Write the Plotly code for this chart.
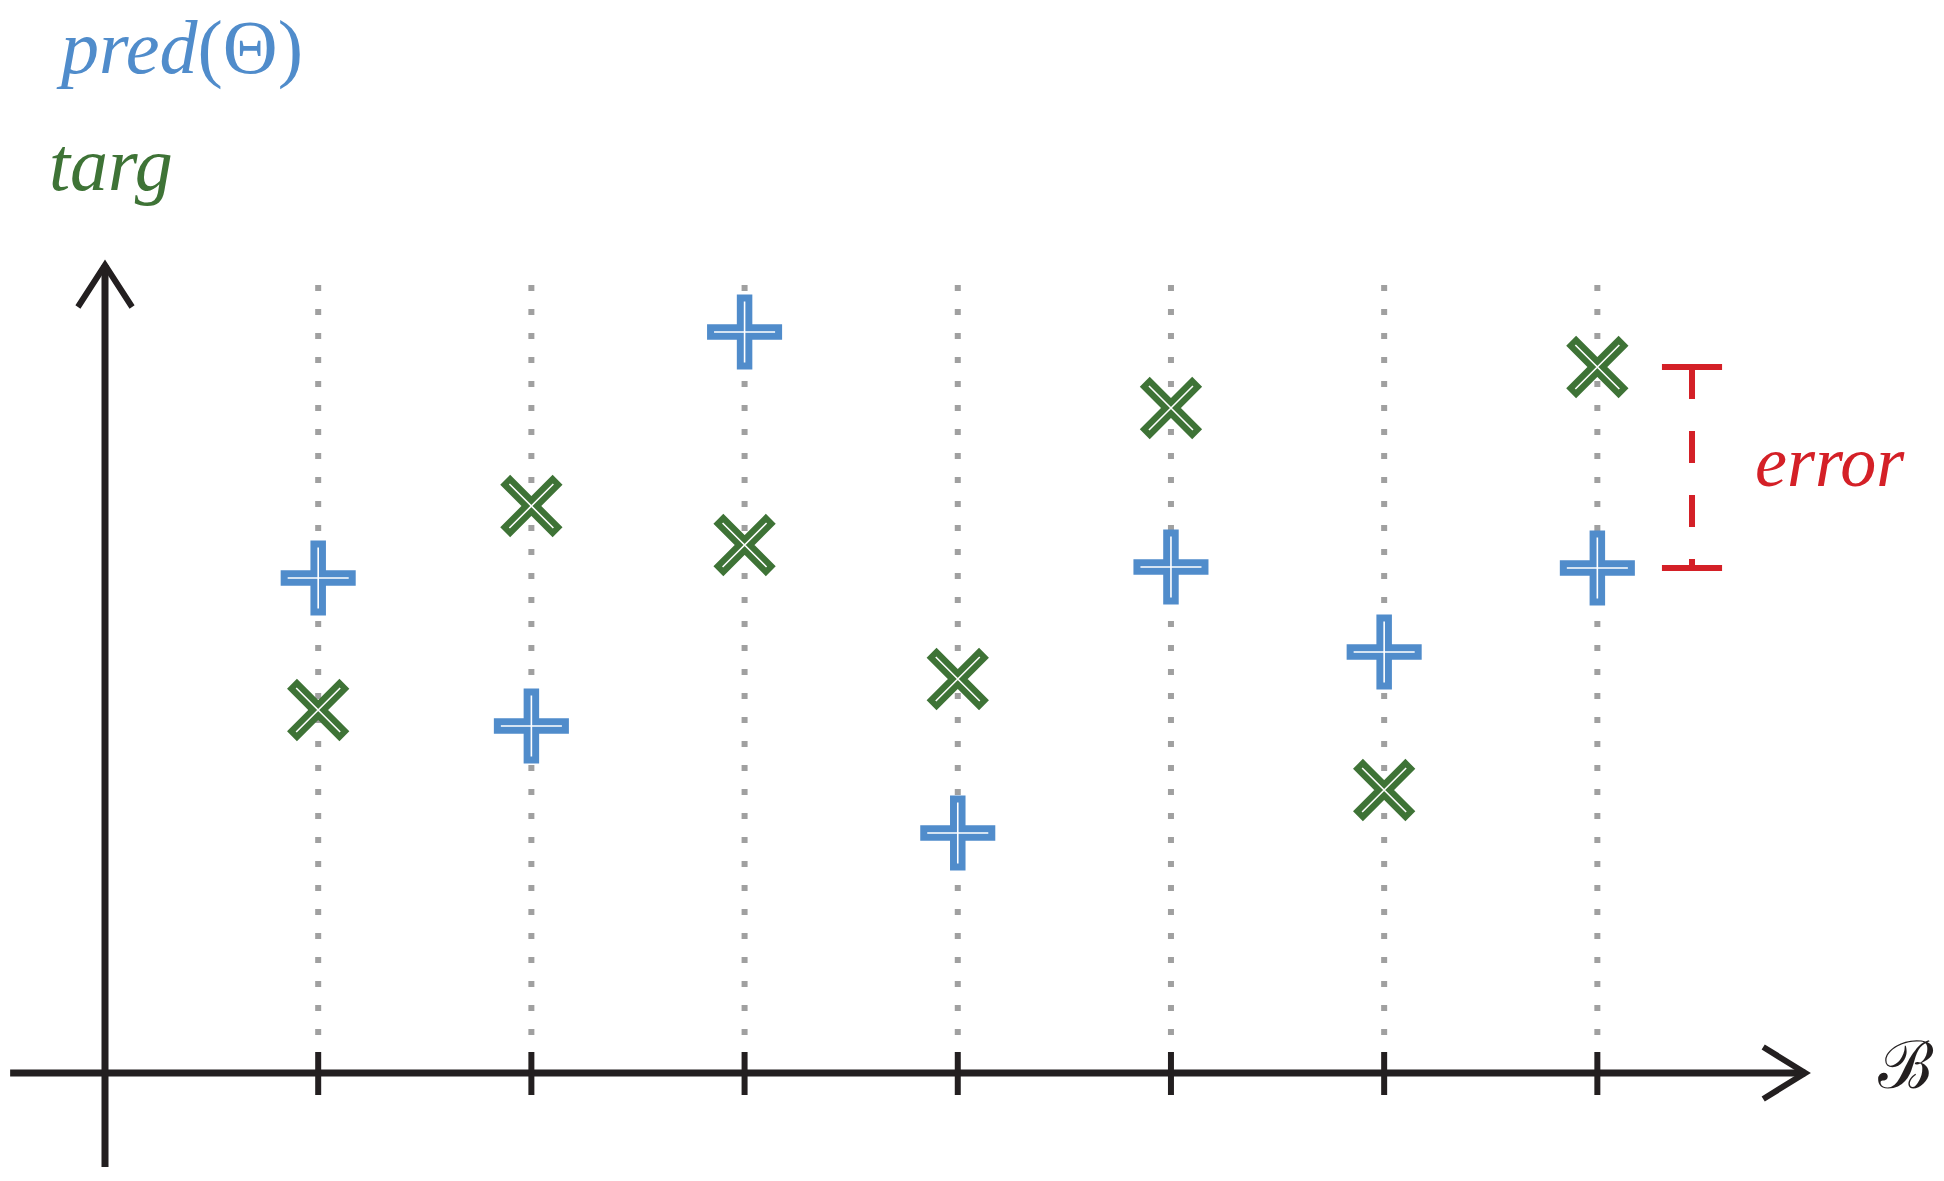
import plotly.graph_objects as go

# ── Data ─────────────────────────────────────────────────────────────────────
batch = [1, 2, 3, 4, 5, 6, 7]
pred  = [4.95, 3.47, 7.41, 2.40, 5.06, 4.21, 5.05]   # blue plus markers
targ  = [3.63, 5.67, 5.28, 3.94, 6.65, 2.83, 7.06]   # green x markers

BLUE  = "#508CCB"
GREEN = "#3E7336"
RED   = "#D42027"
GRAY  = "#A0A0A0"
INK   = "#231F20"

W, H = 1944, 1181
X_RANGE = [-0.4925, 8.626]     # 1 unit ≈ 213 px, origin at 105 px
Y_RANGE = [-1.08, 10.73]       # 1 unit = 100 px, x axis at 1073 px

fig = go.Figure()

# ── Dotted guide lines ───────────────────────────────────────────────────────
gx, gy = [], []
for b in batch:
    gx += [b, b, None]
    gy += [7.88, 0.2, None]
fig.add_trace(go.Scatter(x=gx, y=gy, mode="lines",
                         line=dict(color=GRAY, width=6, dash="6px,18px"),
                         hoverinfo="skip"))

# ── Axes with arrow heads ────────────────────────────────────────────────────
x_tip, y_tip = 7.975, 8.08
ax_line = dict(color=INK, width=7)
fig.add_trace(go.Scatter(x=[-0.445, x_tip, None, 0, 0],
                         y=[0, 0, None, -0.94, y_tip],
                         mode="lines", line=ax_line, hoverinfo="skip"))
fig.add_trace(go.Scatter(
    x=[-0.127, 0, 0.127, None, x_tip - 0.197, x_tip, x_tip - 0.197],
    y=[y_tip - 0.42, y_tip, y_tip - 0.42, None, 0.26, 0, -0.26],
    mode="lines", line=dict(color=INK, width=6), hoverinfo="skip"))

# ticks
tx, ty = [], []
for b in batch:
    tx += [b, b, None]
    ty += [0.21, -0.22, None]
fig.add_trace(go.Scatter(x=tx, y=ty, mode="lines",
                         line=dict(color=INK, width=6), hoverinfo="skip"))

# ── Markers (thick stroke + thin white core) ─────────────────────────────────
fig.add_trace(go.Scatter(x=batch, y=pred, mode="markers", hoverinfo="skip",
                         marker=dict(symbol="cross-thin", size=53.6,
                                     line=dict(color=BLUE, width=15.5))))
fig.add_trace(go.Scatter(x=batch, y=pred, mode="markers", hoverinfo="skip",
                         marker=dict(symbol="cross-thin", size=43.6,
                                     line=dict(color="white", width=1.6))))
fig.add_trace(go.Scatter(x=batch, y=targ, mode="markers", hoverinfo="skip",
                         marker=dict(symbol="x-thin", size=52.4,
                                     line=dict(color=GREEN, width=14))))
fig.add_trace(go.Scatter(x=batch, y=targ, mode="markers", hoverinfo="skip",
                         marker=dict(symbol="x-thin", size=44,
                                     line=dict(color="white", width=1.6))))

# ── Error bracket for last sample ────────────────────────────────────────────
ex, c0, c1 = 7.444, 7.303, 7.585
e_top, e_bot = targ[-1], pred[-1]
fig.add_trace(go.Scatter(x=[ex, ex], y=[e_top, e_bot], mode="lines",
                         line=dict(color=RED, width=6, dash="32px,32px"),
                         hoverinfo="skip"))
fig.add_trace(go.Scatter(x=[c0, c1, None, c0, c1],
                         y=[e_top, e_top, None, e_bot, e_bot],
                         mode="lines", line=dict(color=RED, width=6),
                         hoverinfo="skip"))

# ── Labels ───────────────────────────────────────────────────────────────────
serif = "Liberation Serif"
labels = [
    ("<i>pred</i>(Θ)", -0.24, 10.26, BLUE, 76),
    ("<i>targ</i>", -0.27, 9.09, GREEN, 76),
    ("<i>error</i>", 7.73, 6.11, RED, 72),
]
for txt, x, y, col, sz in labels:
    fig.add_annotation(x=x, y=y, text=txt, showarrow=False, xanchor="left",
                       yanchor="middle", font=dict(family=serif, size=sz, color=col))
fig.add_annotation(x=8.447, y=0.08, text="ℬ", showarrow=False,
                   font=dict(family="DejaVu Serif", size=66, color=INK))

fig.update_layout(
    width=W, height=H,
    margin=dict(l=0, r=0, t=0, b=0),
    paper_bgcolor="white", plot_bgcolor="white",
    showlegend=False,
    xaxis=dict(range=X_RANGE, visible=False, fixedrange=True),
    yaxis=dict(range=Y_RANGE, visible=False, fixedrange=True),
)

fig.write_html("out.html", config={"displayModeBar": False},
               post_script="document.body.style.margin='0px';")
